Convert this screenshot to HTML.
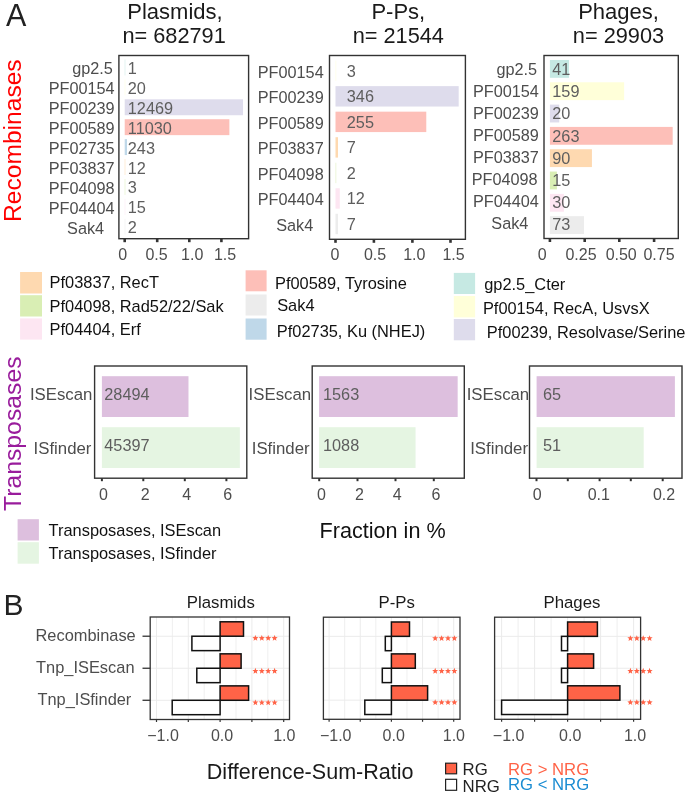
<!DOCTYPE html>
<html><head><meta charset="utf-8"><style>
html,body{margin:0;padding:0;background:#fff;}
body{width:685px;height:798px;overflow:hidden;}
svg{display:block;font-family:"Liberation Sans", sans-serif;}
.wrap{will-change:transform;width:685px;height:798px;}
</style></head><body>
<div class="wrap"><svg width="685" height="798" viewBox="0 0 685 798">
<rect x="0" y="0" width="685" height="798" fill="#fff"/>
<rect x="124.30" y="59.48" width="1.40" height="15.93" fill="#C6E9E3" opacity="0.35"/>
<rect x="124.30" y="79.40" width="1.40" height="15.93" fill="#FFFFD9" opacity="0.35"/>
<rect x="124.70" y="99.31" width="118.34" height="15.93" fill="#DEDCEC" />
<rect x="124.70" y="119.22" width="104.68" height="15.93" fill="#FDBFB8" />
<rect x="124.70" y="139.13" width="2.31" height="15.93" fill="#BFD8E9" />
<rect x="124.30" y="159.05" width="1.40" height="15.93" fill="#FED9B0" opacity="0.35"/>
<rect x="124.30" y="178.96" width="1.40" height="15.93" fill="#D9EEB4" opacity="0.35"/>
<rect x="124.30" y="198.87" width="1.40" height="15.93" fill="#FDE6F2" opacity="0.35"/>
<rect x="124.30" y="218.79" width="1.40" height="15.93" fill="#ECECEC" opacity="0.35"/>
<text x="127.80" y="73.95" font-size="16.3" fill="#5E5E5E" text-anchor="start" >1</text>
<text x="112.80" y="74.45" font-size="16.25" fill="#4D4D4D" text-anchor="end" >gp2.5</text>
<text x="127.80" y="93.86" font-size="16.3" fill="#5E5E5E" text-anchor="start" >20</text>
<text x="114.60" y="94.36" font-size="16.25" fill="#4D4D4D" text-anchor="end" >PF00154</text>
<text x="127.80" y="113.77" font-size="16.3" fill="#5E5E5E" text-anchor="start" >12469</text>
<text x="114.60" y="114.27" font-size="16.25" fill="#4D4D4D" text-anchor="end" >PF00239</text>
<text x="127.80" y="133.69" font-size="16.3" fill="#5E5E5E" text-anchor="start" >11030</text>
<text x="114.60" y="134.19" font-size="16.25" fill="#4D4D4D" text-anchor="end" >PF00589</text>
<text x="127.80" y="153.60" font-size="16.3" fill="#5E5E5E" text-anchor="start" >243</text>
<text x="114.60" y="154.10" font-size="16.25" fill="#4D4D4D" text-anchor="end" >PF02735</text>
<text x="127.80" y="173.51" font-size="16.3" fill="#5E5E5E" text-anchor="start" >12</text>
<text x="114.60" y="174.01" font-size="16.25" fill="#4D4D4D" text-anchor="end" >PF03837</text>
<text x="127.80" y="193.43" font-size="16.3" fill="#5E5E5E" text-anchor="start" >3</text>
<text x="114.60" y="193.93" font-size="16.25" fill="#4D4D4D" text-anchor="end" >PF04098</text>
<text x="127.80" y="213.34" font-size="16.3" fill="#5E5E5E" text-anchor="start" >15</text>
<text x="114.60" y="213.84" font-size="16.25" fill="#4D4D4D" text-anchor="end" >PF04404</text>
<text x="127.80" y="233.25" font-size="16.3" fill="#5E5E5E" text-anchor="start" >2</text>
<text x="104.10" y="233.75" font-size="16.25" fill="#4D4D4D" text-anchor="end" >Sak4</text>
<rect x="118.90" y="55.50" width="129.70" height="183.20" fill="none" stroke="#333333" stroke-width="1.4" />
<line x1="124.70" y1="238.70" x2="124.70" y2="242.20" stroke="#333333" stroke-width="2.6"/>
<line x1="157.20" y1="238.70" x2="157.20" y2="242.20" stroke="#333333" stroke-width="2.6"/>
<line x1="189.30" y1="238.70" x2="189.30" y2="242.20" stroke="#333333" stroke-width="2.6"/>
<line x1="221.40" y1="238.70" x2="221.40" y2="242.20" stroke="#333333" stroke-width="2.6"/>
<text x="122.70" y="260.00" font-size="16" fill="#4D4D4D" text-anchor="middle" >0</text>
<text x="156.50" y="260.00" font-size="16" fill="#4D4D4D" text-anchor="middle" >0.5</text>
<text x="192.20" y="260.00" font-size="16" fill="#4D4D4D" text-anchor="middle" >1.0</text>
<text x="225.00" y="260.00" font-size="16" fill="#4D4D4D" text-anchor="middle" >1.5</text>
<text x="175.00" y="18.60" font-size="22" fill="#1A1A1A" text-anchor="middle" >Plasmids,</text>
<text x="174.10" y="42.60" font-size="21.75" fill="#1A1A1A" text-anchor="middle" >n= 682791</text>
<rect x="335.10" y="60.61" width="1.40" height="20.42" fill="#FFFFD9" opacity="0.35"/>
<rect x="335.50" y="86.13" width="123.18" height="20.42" fill="#DEDCEC" />
<rect x="335.50" y="111.66" width="90.78" height="20.42" fill="#FDBFB8" />
<rect x="335.50" y="137.19" width="2.49" height="20.42" fill="#FED9B0" />
<rect x="335.10" y="162.72" width="1.40" height="20.42" fill="#D9EEB4" opacity="0.35"/>
<rect x="335.50" y="188.24" width="4.27" height="20.42" fill="#FDE6F2" />
<rect x="335.50" y="213.77" width="2.49" height="20.42" fill="#ECECEC" />
<text x="346.80" y="76.62" font-size="16.3" fill="#5E5E5E" text-anchor="start" >3</text>
<text x="323.70" y="77.82" font-size="16.25" fill="#4D4D4D" text-anchor="end" >PF00154</text>
<text x="346.80" y="102.14" font-size="16.3" fill="#5E5E5E" text-anchor="start" >346</text>
<text x="323.70" y="103.34" font-size="16.25" fill="#4D4D4D" text-anchor="end" >PF00239</text>
<text x="346.80" y="127.67" font-size="16.3" fill="#5E5E5E" text-anchor="start" >255</text>
<text x="323.70" y="128.87" font-size="16.25" fill="#4D4D4D" text-anchor="end" >PF00589</text>
<text x="346.80" y="153.20" font-size="16.3" fill="#5E5E5E" text-anchor="start" >7</text>
<text x="323.70" y="154.40" font-size="16.25" fill="#4D4D4D" text-anchor="end" >PF03837</text>
<text x="346.80" y="178.73" font-size="16.3" fill="#5E5E5E" text-anchor="start" >2</text>
<text x="323.70" y="179.93" font-size="16.25" fill="#4D4D4D" text-anchor="end" >PF04098</text>
<text x="346.80" y="204.26" font-size="16.3" fill="#5E5E5E" text-anchor="start" >12</text>
<text x="323.70" y="205.46" font-size="16.25" fill="#4D4D4D" text-anchor="end" >PF04404</text>
<text x="346.80" y="229.78" font-size="16.3" fill="#5E5E5E" text-anchor="start" >7</text>
<text x="313.20" y="230.98" font-size="16.25" fill="#4D4D4D" text-anchor="end" >Sak4</text>
<rect x="329.50" y="55.50" width="135.90" height="183.80" fill="none" stroke="#333333" stroke-width="1.4" />
<line x1="335.50" y1="239.30" x2="335.50" y2="242.80" stroke="#333333" stroke-width="2.6"/>
<line x1="373.90" y1="239.30" x2="373.90" y2="242.80" stroke="#333333" stroke-width="2.6"/>
<line x1="412.40" y1="239.30" x2="412.40" y2="242.80" stroke="#333333" stroke-width="2.6"/>
<line x1="450.50" y1="239.30" x2="450.50" y2="242.80" stroke="#333333" stroke-width="2.6"/>
<text x="335.00" y="260.00" font-size="16" fill="#4D4D4D" text-anchor="middle" >0</text>
<text x="375.00" y="260.00" font-size="16" fill="#4D4D4D" text-anchor="middle" >0.5</text>
<text x="414.30" y="260.00" font-size="16" fill="#4D4D4D" text-anchor="middle" >1.0</text>
<text x="453.60" y="260.00" font-size="16" fill="#4D4D4D" text-anchor="middle" >1.5</text>
<text x="398.30" y="18.60" font-size="22" fill="#1A1A1A" text-anchor="middle" >P-Ps,</text>
<text x="398.30" y="42.60" font-size="21.75" fill="#1A1A1A" text-anchor="middle" >n= 21544</text>
<rect x="549.90" y="59.96" width="19.14" height="17.85" fill="#C6E9E3" />
<rect x="549.90" y="82.28" width="74.23" height="17.85" fill="#FFFFD9" />
<rect x="549.90" y="104.60" width="9.34" height="17.85" fill="#DEDCEC" />
<rect x="549.90" y="126.91" width="122.78" height="17.85" fill="#FDBFB8" />
<rect x="549.90" y="149.23" width="42.02" height="17.85" fill="#FED9B0" />
<rect x="549.90" y="171.55" width="7.00" height="17.85" fill="#D9EEB4" />
<rect x="549.90" y="193.87" width="14.01" height="17.85" fill="#FDE6F2" />
<rect x="549.90" y="216.18" width="34.08" height="17.85" fill="#ECECEC" />
<text x="552.30" y="75.09" font-size="16.3" fill="#5E5E5E" text-anchor="start" >41</text>
<text x="537.10" y="74.99" font-size="16.25" fill="#4D4D4D" text-anchor="end" >gp2.5</text>
<text x="552.30" y="97.24" font-size="16.3" fill="#5E5E5E" text-anchor="start" >159</text>
<text x="538.90" y="96.94" font-size="16.25" fill="#4D4D4D" text-anchor="end" >PF00154</text>
<text x="552.30" y="119.38" font-size="16.3" fill="#5E5E5E" text-anchor="start" >20</text>
<text x="538.90" y="118.88" font-size="16.25" fill="#4D4D4D" text-anchor="end" >PF00239</text>
<text x="552.30" y="141.53" font-size="16.3" fill="#5E5E5E" text-anchor="start" >263</text>
<text x="538.90" y="140.83" font-size="16.25" fill="#4D4D4D" text-anchor="end" >PF00589</text>
<text x="552.30" y="163.68" font-size="16.3" fill="#5E5E5E" text-anchor="start" >90</text>
<text x="538.90" y="162.78" font-size="16.25" fill="#4D4D4D" text-anchor="end" >PF03837</text>
<text x="552.30" y="185.83" font-size="16.3" fill="#5E5E5E" text-anchor="start" >15</text>
<text x="537.60" y="184.73" font-size="16.25" fill="#4D4D4D" text-anchor="end" >PF04098</text>
<text x="552.30" y="207.97" font-size="16.3" fill="#5E5E5E" text-anchor="start" >30</text>
<text x="538.90" y="206.67" font-size="16.25" fill="#4D4D4D" text-anchor="end" >PF04404</text>
<text x="552.30" y="230.12" font-size="16.3" fill="#5E5E5E" text-anchor="start" >73</text>
<text x="528.40" y="228.62" font-size="16.25" fill="#4D4D4D" text-anchor="end" >Sak4</text>
<rect x="544.00" y="55.50" width="134.30" height="183.00" fill="none" stroke="#333333" stroke-width="1.4" />
<line x1="549.90" y1="238.50" x2="549.90" y2="242.00" stroke="#333333" stroke-width="2.6"/>
<line x1="584.70" y1="238.50" x2="584.70" y2="242.00" stroke="#333333" stroke-width="2.6"/>
<line x1="619.30" y1="238.50" x2="619.30" y2="242.00" stroke="#333333" stroke-width="2.6"/>
<line x1="654.10" y1="238.50" x2="654.10" y2="242.00" stroke="#333333" stroke-width="2.6"/>
<text x="542.20" y="260.00" font-size="16" fill="#4D4D4D" text-anchor="middle" >0</text>
<text x="581.00" y="260.00" font-size="16" fill="#4D4D4D" text-anchor="middle" >0.25</text>
<text x="621.20" y="260.00" font-size="16" fill="#4D4D4D" text-anchor="middle" >0.50</text>
<text x="659.00" y="260.00" font-size="16" fill="#4D4D4D" text-anchor="middle" >0.75</text>
<text x="618.50" y="18.60" font-size="22" fill="#1A1A1A" text-anchor="middle" >Phages,</text>
<text x="618.50" y="42.60" font-size="21.75" fill="#1A1A1A" text-anchor="middle" >n= 29903</text>
<text x="5.90" y="25.60" font-size="30.5" fill="#222" text-anchor="start" >A</text>
<text x="3.50" y="614.90" font-size="30" fill="#222" text-anchor="start" >B</text>
<text x="0.00" y="0.00" font-size="24.6" fill="#FF0000" text-anchor="start" transform="translate(21.2,222.0) rotate(-90)">Recombinases</text>
<text x="0.00" y="0.00" font-size="24.75" fill="#991C9C" text-anchor="start" transform="translate(21.2,511.0) rotate(-90)">Transposases</text>
<rect x="20.10" y="272.00" width="21.90" height="21.50" fill="#FED9B0" />
<text x="49.60" y="288.40" font-size="16.4" fill="#111" text-anchor="start" >Pf03837, RecT</text>
<rect x="20.10" y="295.20" width="21.90" height="21.30" fill="#D9EEB4" />
<text x="49.60" y="311.80" font-size="16.4" fill="#111" text-anchor="start" >Pf04098, Rad52/22/Sak</text>
<rect x="20.10" y="318.40" width="21.90" height="21.20" fill="#FDE6F2" />
<text x="49.60" y="335.00" font-size="16.4" fill="#111" text-anchor="start" >Pf04404, Erf</text>
<rect x="245.60" y="270.30" width="21.00" height="21.00" fill="#FDBFB8" />
<text x="275.00" y="288.70" font-size="16.4" fill="#111" text-anchor="start" >Pf00589, Tyrosine</text>
<rect x="245.60" y="294.50" width="21.00" height="21.00" fill="#ECECEC" />
<text x="277.20" y="310.90" font-size="16.4" fill="#111" text-anchor="start" >Sak4</text>
<rect x="245.60" y="318.50" width="21.00" height="21.20" fill="#BFD8E9" />
<text x="276.80" y="336.50" font-size="16.4" fill="#111" text-anchor="start" >Pf02735, Ku (NHEJ)</text>
<rect x="453.80" y="272.90" width="21.30" height="21.10" fill="#C6E9E3" />
<text x="484.20" y="290.10" font-size="16.4" fill="#111" text-anchor="start" >gp2.5_Cter</text>
<rect x="453.80" y="296.00" width="21.30" height="21.40" fill="#FFFFD9" />
<text x="482.90" y="313.50" font-size="16.4" fill="#111" text-anchor="start" >Pf00154, RecA, UsvsX</text>
<rect x="453.80" y="319.00" width="21.30" height="21.30" fill="#DEDCEC" />
<text x="486.80" y="338.30" font-size="16.4" fill="#111" text-anchor="start" >Pf00239, Resolvase/Serine</text>
<rect x="101.90" y="376.20" width="86.59" height="40.80" fill="#DDBFDE" />
<text x="104.30" y="400.00" font-size="16.3" fill="#5E5E5E" text-anchor="start" >28494</text>
<text x="92.40" y="400.20" font-size="16.8" fill="#4D4D4D" text-anchor="end" >ISEscan</text>
<rect x="101.90" y="427.20" width="137.96" height="40.80" fill="#E5F5E2" />
<text x="104.30" y="451.00" font-size="16.3" fill="#5E5E5E" text-anchor="start" >45397</text>
<text x="91.40" y="454.30" font-size="16.8" fill="#4D4D4D" text-anchor="end" >ISfinder</text>
<rect x="94.60" y="366.00" width="152.20" height="112.20" fill="none" stroke="#333333" stroke-width="1.4" />
<line x1="101.90" y1="478.20" x2="101.90" y2="481.20" stroke="#333333" stroke-width="2"/>
<line x1="143.30" y1="478.20" x2="143.30" y2="481.20" stroke="#333333" stroke-width="2"/>
<line x1="184.80" y1="478.20" x2="184.80" y2="481.20" stroke="#333333" stroke-width="2"/>
<line x1="226.40" y1="478.20" x2="226.40" y2="481.20" stroke="#333333" stroke-width="2"/>
<text x="103.40" y="500.20" font-size="16" fill="#4D4D4D" text-anchor="middle" >0</text>
<text x="145.30" y="500.20" font-size="16" fill="#4D4D4D" text-anchor="middle" >2</text>
<text x="186.70" y="500.20" font-size="16" fill="#4D4D4D" text-anchor="middle" >4</text>
<text x="227.80" y="500.20" font-size="16" fill="#4D4D4D" text-anchor="middle" >6</text>
<rect x="319.10" y="376.20" width="138.57" height="40.80" fill="#DDBFDE" />
<text x="323.00" y="400.00" font-size="16.3" fill="#5E5E5E" text-anchor="start" >1563</text>
<text x="311.10" y="400.20" font-size="16.8" fill="#4D4D4D" text-anchor="end" >ISEscan</text>
<rect x="319.10" y="427.20" width="96.46" height="40.80" fill="#E5F5E2" />
<text x="323.00" y="451.00" font-size="16.3" fill="#5E5E5E" text-anchor="start" >1088</text>
<text x="309.60" y="454.30" font-size="16.8" fill="#4D4D4D" text-anchor="end" >ISfinder</text>
<rect x="312.20" y="366.00" width="152.10" height="112.20" fill="none" stroke="#333333" stroke-width="1.4" />
<line x1="319.20" y1="478.20" x2="319.20" y2="481.20" stroke="#333333" stroke-width="2"/>
<line x1="357.50" y1="478.20" x2="357.50" y2="481.20" stroke="#333333" stroke-width="2"/>
<line x1="395.50" y1="478.20" x2="395.50" y2="481.20" stroke="#333333" stroke-width="2"/>
<line x1="433.80" y1="478.20" x2="433.80" y2="481.20" stroke="#333333" stroke-width="2"/>
<text x="321.40" y="500.20" font-size="16" fill="#4D4D4D" text-anchor="middle" >0</text>
<text x="359.40" y="500.20" font-size="16" fill="#4D4D4D" text-anchor="middle" >2</text>
<text x="397.30" y="500.20" font-size="16" fill="#4D4D4D" text-anchor="middle" >4</text>
<text x="436.00" y="500.20" font-size="16" fill="#4D4D4D" text-anchor="middle" >6</text>
<rect x="536.60" y="376.20" width="138.30" height="40.80" fill="#DDBFDE" />
<text x="542.90" y="400.00" font-size="16.3" fill="#5E5E5E" text-anchor="start" >65</text>
<text x="529.20" y="400.20" font-size="16.8" fill="#4D4D4D" text-anchor="end" >ISEscan</text>
<rect x="536.60" y="427.20" width="107.10" height="40.80" fill="#E5F5E2" />
<text x="542.90" y="451.00" font-size="16.3" fill="#5E5E5E" text-anchor="start" >51</text>
<text x="528.00" y="454.30" font-size="16.8" fill="#4D4D4D" text-anchor="end" >ISfinder</text>
<rect x="529.50" y="366.00" width="152.50" height="112.20" fill="none" stroke="#333333" stroke-width="1.4" />
<line x1="536.50" y1="478.20" x2="536.50" y2="481.20" stroke="#333333" stroke-width="2"/>
<line x1="567.80" y1="478.20" x2="567.80" y2="481.20" stroke="#333333" stroke-width="2"/>
<line x1="599.60" y1="478.20" x2="599.60" y2="481.20" stroke="#333333" stroke-width="2"/>
<line x1="630.80" y1="478.20" x2="630.80" y2="481.20" stroke="#333333" stroke-width="2"/>
<line x1="662.70" y1="478.20" x2="662.70" y2="481.20" stroke="#333333" stroke-width="2"/>
<text x="537.20" y="500.20" font-size="16" fill="#4D4D4D" text-anchor="middle" >0</text>
<text x="598.80" y="500.20" font-size="16" fill="#4D4D4D" text-anchor="middle" >0.1</text>
<text x="664.00" y="500.20" font-size="16" fill="#4D4D4D" text-anchor="middle" >0.2</text>
<rect x="17.60" y="519.20" width="21.30" height="21.30" fill="#DDBFDE" />
<rect x="17.60" y="542.20" width="21.30" height="21.50" fill="#E5F5E2" />
<text x="48.60" y="535.70" font-size="16.4" fill="#111" text-anchor="start" >Transposases, ISEscan</text>
<text x="48.60" y="559.00" font-size="16.4" fill="#111" text-anchor="start" >Transposases, ISfinder</text>
<text x="319.60" y="538.30" font-size="21.6" fill="#111" text-anchor="start" >Fraction in %</text>
<rect x="150.20" y="617.00" width="139.30" height="102.50" fill="#FFFFFF" />
<line x1="156.50" y1="617.00" x2="156.50" y2="719.50" stroke="#EBEBEB" stroke-width="1.0"/>
<line x1="172.40" y1="617.00" x2="172.40" y2="719.50" stroke="#EBEBEB" stroke-width="0.8"/>
<line x1="188.30" y1="617.00" x2="188.30" y2="719.50" stroke="#EBEBEB" stroke-width="1.0"/>
<line x1="204.20" y1="617.00" x2="204.20" y2="719.50" stroke="#EBEBEB" stroke-width="0.8"/>
<line x1="220.10" y1="617.00" x2="220.10" y2="719.50" stroke="#EBEBEB" stroke-width="1.0"/>
<line x1="236.00" y1="617.00" x2="236.00" y2="719.50" stroke="#EBEBEB" stroke-width="0.8"/>
<line x1="251.90" y1="617.00" x2="251.90" y2="719.50" stroke="#EBEBEB" stroke-width="1.0"/>
<line x1="267.80" y1="617.00" x2="267.80" y2="719.50" stroke="#EBEBEB" stroke-width="0.8"/>
<line x1="283.70" y1="617.00" x2="283.70" y2="719.50" stroke="#EBEBEB" stroke-width="1.0"/>
<line x1="150.20" y1="636.22" x2="289.50" y2="636.22" stroke="#EBEBEB" stroke-width="1.0"/>
<line x1="150.20" y1="668.25" x2="289.50" y2="668.25" stroke="#EBEBEB" stroke-width="1.0"/>
<line x1="150.20" y1="700.28" x2="289.50" y2="700.28" stroke="#EBEBEB" stroke-width="1.0"/>
<rect x="220.10" y="621.80" width="23.40" height="14.41" fill="#FF6347" stroke="#111" stroke-width="1.5" />
<rect x="191.90" y="636.22" width="28.20" height="14.41" fill="#FFFFFF" stroke="#111" stroke-width="1.5" />
<rect x="220.10" y="653.84" width="21.00" height="14.41" fill="#FF6347" stroke="#111" stroke-width="1.5" />
<rect x="196.80" y="668.25" width="23.30" height="14.41" fill="#FFFFFF" stroke="#111" stroke-width="1.5" />
<rect x="220.10" y="685.87" width="28.50" height="14.41" fill="#FF6347" stroke="#111" stroke-width="1.5" />
<rect x="172.20" y="700.28" width="47.90" height="14.41" fill="#FFFFFF" stroke="#111" stroke-width="1.5" />
<polygon points="255.40,635.02 256.22,637.09 258.44,637.23 256.73,638.65 257.28,640.81 255.40,639.62 253.52,640.81 254.07,638.65 252.36,637.23 254.58,637.09" fill="#FF6347"/>
<polygon points="261.80,635.02 262.62,637.09 264.84,637.23 263.13,638.65 263.68,640.81 261.80,639.62 259.92,640.81 260.47,638.65 258.76,637.23 260.98,637.09" fill="#FF6347"/>
<polygon points="268.20,635.02 269.02,637.09 271.24,637.23 269.53,638.65 270.08,640.81 268.20,639.62 266.32,640.81 266.87,638.65 265.16,637.23 267.38,637.09" fill="#FF6347"/>
<polygon points="274.60,635.02 275.42,637.09 277.64,637.23 275.93,638.65 276.48,640.81 274.60,639.62 272.72,640.81 273.27,638.65 271.56,637.23 273.78,637.09" fill="#FF6347"/>
<polygon points="255.40,667.85 256.22,669.92 258.44,670.06 256.73,671.48 257.28,673.64 255.40,672.45 253.52,673.64 254.07,671.48 252.36,670.06 254.58,669.92" fill="#FF6347"/>
<polygon points="261.80,667.85 262.62,669.92 264.84,670.06 263.13,671.48 263.68,673.64 261.80,672.45 259.92,673.64 260.47,671.48 258.76,670.06 260.98,669.92" fill="#FF6347"/>
<polygon points="268.20,667.85 269.02,669.92 271.24,670.06 269.53,671.48 270.08,673.64 268.20,672.45 266.32,673.64 266.87,671.48 265.16,670.06 267.38,669.92" fill="#FF6347"/>
<polygon points="274.60,667.85 275.42,669.92 277.64,670.06 275.93,671.48 276.48,673.64 274.60,672.45 272.72,673.64 273.27,671.48 271.56,670.06 273.78,669.92" fill="#FF6347"/>
<polygon points="255.40,699.38 256.22,701.45 258.44,701.59 256.73,703.01 257.28,705.17 255.40,703.98 253.52,705.17 254.07,703.01 252.36,701.59 254.58,701.45" fill="#FF6347"/>
<polygon points="261.80,699.38 262.62,701.45 264.84,701.59 263.13,703.01 263.68,705.17 261.80,703.98 259.92,705.17 260.47,703.01 258.76,701.59 260.98,701.45" fill="#FF6347"/>
<polygon points="268.20,699.38 269.02,701.45 271.24,701.59 269.53,703.01 270.08,705.17 268.20,703.98 266.32,705.17 266.87,703.01 265.16,701.59 267.38,701.45" fill="#FF6347"/>
<polygon points="274.60,699.38 275.42,701.45 277.64,701.59 275.93,703.01 276.48,705.17 274.60,703.98 272.72,705.17 273.27,703.01 271.56,701.59 273.78,701.45" fill="#FF6347"/>
<rect x="150.20" y="617.00" width="139.30" height="102.50" fill="none" stroke="#333333" stroke-width="1.3" />
<line x1="156.50" y1="719.50" x2="156.50" y2="722.00" stroke="#333333" stroke-width="1.2"/>
<line x1="188.30" y1="719.50" x2="188.30" y2="722.00" stroke="#333333" stroke-width="1.2"/>
<line x1="220.10" y1="719.50" x2="220.10" y2="722.00" stroke="#333333" stroke-width="1.2"/>
<line x1="251.90" y1="719.50" x2="251.90" y2="722.00" stroke="#333333" stroke-width="1.2"/>
<line x1="283.70" y1="719.50" x2="283.70" y2="722.00" stroke="#333333" stroke-width="1.2"/>
<text x="163.00" y="741.30" font-size="16" fill="#4D4D4D" text-anchor="middle" >−1.0</text>
<text x="222.00" y="741.30" font-size="16" fill="#4D4D4D" text-anchor="middle" >0.0</text>
<text x="284.30" y="741.30" font-size="16" fill="#4D4D4D" text-anchor="middle" >1.0</text>
<text x="220.80" y="608.20" font-size="16.8" fill="#1A1A1A" text-anchor="middle" >Plasmids</text>
<rect x="323.40" y="617.20" width="136.60" height="102.10" fill="#FFFFFF" />
<line x1="329.10" y1="617.20" x2="329.10" y2="719.30" stroke="#EBEBEB" stroke-width="1.0"/>
<line x1="344.67" y1="617.20" x2="344.67" y2="719.30" stroke="#EBEBEB" stroke-width="0.8"/>
<line x1="360.25" y1="617.20" x2="360.25" y2="719.30" stroke="#EBEBEB" stroke-width="1.0"/>
<line x1="375.82" y1="617.20" x2="375.82" y2="719.30" stroke="#EBEBEB" stroke-width="0.8"/>
<line x1="391.40" y1="617.20" x2="391.40" y2="719.30" stroke="#EBEBEB" stroke-width="1.0"/>
<line x1="406.97" y1="617.20" x2="406.97" y2="719.30" stroke="#EBEBEB" stroke-width="0.8"/>
<line x1="422.55" y1="617.20" x2="422.55" y2="719.30" stroke="#EBEBEB" stroke-width="1.0"/>
<line x1="438.12" y1="617.20" x2="438.12" y2="719.30" stroke="#EBEBEB" stroke-width="0.8"/>
<line x1="453.70" y1="617.20" x2="453.70" y2="719.30" stroke="#EBEBEB" stroke-width="1.0"/>
<line x1="323.40" y1="636.34" x2="460.00" y2="636.34" stroke="#EBEBEB" stroke-width="1.0"/>
<line x1="323.40" y1="668.25" x2="460.00" y2="668.25" stroke="#EBEBEB" stroke-width="1.0"/>
<line x1="323.40" y1="700.16" x2="460.00" y2="700.16" stroke="#EBEBEB" stroke-width="1.0"/>
<rect x="391.40" y="621.99" width="18.10" height="14.36" fill="#FF6347" stroke="#111" stroke-width="1.5" />
<rect x="385.30" y="636.34" width="6.10" height="14.36" fill="#FFFFFF" stroke="#111" stroke-width="1.5" />
<rect x="391.40" y="653.89" width="23.90" height="14.36" fill="#FF6347" stroke="#111" stroke-width="1.5" />
<rect x="382.30" y="668.25" width="9.10" height="14.36" fill="#FFFFFF" stroke="#111" stroke-width="1.5" />
<rect x="391.40" y="685.80" width="36.20" height="14.36" fill="#FF6347" stroke="#111" stroke-width="1.5" />
<rect x="364.80" y="700.16" width="26.60" height="14.36" fill="#FFFFFF" stroke="#111" stroke-width="1.5" />
<polygon points="435.20,635.14 436.02,637.21 438.24,637.35 436.53,638.78 437.08,640.93 435.20,639.74 433.32,640.93 433.87,638.78 432.16,637.35 434.38,637.21" fill="#FF6347"/>
<polygon points="441.60,635.14 442.42,637.21 444.64,637.35 442.93,638.78 443.48,640.93 441.60,639.74 439.72,640.93 440.27,638.78 438.56,637.35 440.78,637.21" fill="#FF6347"/>
<polygon points="448.00,635.14 448.82,637.21 451.04,637.35 449.33,638.78 449.88,640.93 448.00,639.74 446.12,640.93 446.67,638.78 444.96,637.35 447.18,637.21" fill="#FF6347"/>
<polygon points="454.40,635.14 455.22,637.21 457.44,637.35 455.73,638.78 456.28,640.93 454.40,639.74 452.52,640.93 453.07,638.78 451.36,637.35 453.58,637.21" fill="#FF6347"/>
<polygon points="435.20,667.85 436.02,669.92 438.24,670.06 436.53,671.48 437.08,673.64 435.20,672.45 433.32,673.64 433.87,671.48 432.16,670.06 434.38,669.92" fill="#FF6347"/>
<polygon points="441.60,667.85 442.42,669.92 444.64,670.06 442.93,671.48 443.48,673.64 441.60,672.45 439.72,673.64 440.27,671.48 438.56,670.06 440.78,669.92" fill="#FF6347"/>
<polygon points="448.00,667.85 448.82,669.92 451.04,670.06 449.33,671.48 449.88,673.64 448.00,672.45 446.12,673.64 446.67,671.48 444.96,670.06 447.18,669.92" fill="#FF6347"/>
<polygon points="454.40,667.85 455.22,669.92 457.44,670.06 455.73,671.48 456.28,673.64 454.40,672.45 452.52,673.64 453.07,671.48 451.36,670.06 453.58,669.92" fill="#FF6347"/>
<polygon points="435.20,699.26 436.02,701.32 438.24,701.47 436.53,702.89 437.08,705.05 435.20,703.86 433.32,705.05 433.87,702.89 432.16,701.47 434.38,701.32" fill="#FF6347"/>
<polygon points="441.60,699.26 442.42,701.32 444.64,701.47 442.93,702.89 443.48,705.05 441.60,703.86 439.72,705.05 440.27,702.89 438.56,701.47 440.78,701.32" fill="#FF6347"/>
<polygon points="448.00,699.26 448.82,701.32 451.04,701.47 449.33,702.89 449.88,705.05 448.00,703.86 446.12,705.05 446.67,702.89 444.96,701.47 447.18,701.32" fill="#FF6347"/>
<polygon points="454.40,699.26 455.22,701.32 457.44,701.47 455.73,702.89 456.28,705.05 454.40,703.86 452.52,705.05 453.07,702.89 451.36,701.47 453.58,701.32" fill="#FF6347"/>
<rect x="323.40" y="617.20" width="136.60" height="102.10" fill="none" stroke="#333333" stroke-width="1.3" />
<line x1="329.10" y1="719.30" x2="329.10" y2="721.80" stroke="#333333" stroke-width="1.2"/>
<line x1="360.25" y1="719.30" x2="360.25" y2="721.80" stroke="#333333" stroke-width="1.2"/>
<line x1="391.40" y1="719.30" x2="391.40" y2="721.80" stroke="#333333" stroke-width="1.2"/>
<line x1="422.55" y1="719.30" x2="422.55" y2="721.80" stroke="#333333" stroke-width="1.2"/>
<line x1="453.70" y1="719.30" x2="453.70" y2="721.80" stroke="#333333" stroke-width="1.2"/>
<text x="335.70" y="741.30" font-size="16" fill="#4D4D4D" text-anchor="middle" >−1.0</text>
<text x="393.70" y="741.30" font-size="16" fill="#4D4D4D" text-anchor="middle" >0.0</text>
<text x="453.90" y="741.30" font-size="16" fill="#4D4D4D" text-anchor="middle" >1.0</text>
<text x="396.70" y="608.20" font-size="16.8" fill="#1A1A1A" text-anchor="middle" >P-Ps</text>
<rect x="494.60" y="617.20" width="146.00" height="102.10" fill="#FFFFFF" />
<line x1="501.60" y1="617.20" x2="501.60" y2="719.30" stroke="#EBEBEB" stroke-width="1.0"/>
<line x1="518.10" y1="617.20" x2="518.10" y2="719.30" stroke="#EBEBEB" stroke-width="0.8"/>
<line x1="534.60" y1="617.20" x2="534.60" y2="719.30" stroke="#EBEBEB" stroke-width="1.0"/>
<line x1="551.10" y1="617.20" x2="551.10" y2="719.30" stroke="#EBEBEB" stroke-width="0.8"/>
<line x1="567.60" y1="617.20" x2="567.60" y2="719.30" stroke="#EBEBEB" stroke-width="1.0"/>
<line x1="584.10" y1="617.20" x2="584.10" y2="719.30" stroke="#EBEBEB" stroke-width="0.8"/>
<line x1="600.60" y1="617.20" x2="600.60" y2="719.30" stroke="#EBEBEB" stroke-width="1.0"/>
<line x1="617.10" y1="617.20" x2="617.10" y2="719.30" stroke="#EBEBEB" stroke-width="0.8"/>
<line x1="633.60" y1="617.20" x2="633.60" y2="719.30" stroke="#EBEBEB" stroke-width="1.0"/>
<line x1="494.60" y1="636.34" x2="640.60" y2="636.34" stroke="#EBEBEB" stroke-width="1.0"/>
<line x1="494.60" y1="668.25" x2="640.60" y2="668.25" stroke="#EBEBEB" stroke-width="1.0"/>
<line x1="494.60" y1="700.16" x2="640.60" y2="700.16" stroke="#EBEBEB" stroke-width="1.0"/>
<rect x="567.60" y="621.99" width="29.80" height="14.36" fill="#FF6347" stroke="#111" stroke-width="1.5" />
<rect x="561.50" y="636.34" width="6.10" height="14.36" fill="#FFFFFF" stroke="#111" stroke-width="1.5" />
<rect x="567.60" y="653.89" width="26.00" height="14.36" fill="#FF6347" stroke="#111" stroke-width="1.5" />
<rect x="561.50" y="668.25" width="6.10" height="14.36" fill="#FFFFFF" stroke="#111" stroke-width="1.5" />
<rect x="567.60" y="685.80" width="52.30" height="14.36" fill="#FF6347" stroke="#111" stroke-width="1.5" />
<rect x="501.60" y="700.16" width="66.00" height="14.36" fill="#FFFFFF" stroke="#111" stroke-width="1.5" />
<polygon points="630.40,635.14 631.22,637.21 633.44,637.35 631.73,638.78 632.28,640.93 630.40,639.74 628.52,640.93 629.07,638.78 627.36,637.35 629.58,637.21" fill="#FF6347"/>
<polygon points="636.80,635.14 637.62,637.21 639.84,637.35 638.13,638.78 638.68,640.93 636.80,639.74 634.92,640.93 635.47,638.78 633.76,637.35 635.98,637.21" fill="#FF6347"/>
<polygon points="643.20,635.14 644.02,637.21 646.24,637.35 644.53,638.78 645.08,640.93 643.20,639.74 641.32,640.93 641.87,638.78 640.16,637.35 642.38,637.21" fill="#FF6347"/>
<polygon points="649.60,635.14 650.42,637.21 652.64,637.35 650.93,638.78 651.48,640.93 649.60,639.74 647.72,640.93 648.27,638.78 646.56,637.35 648.78,637.21" fill="#FF6347"/>
<polygon points="630.40,667.85 631.22,669.92 633.44,670.06 631.73,671.48 632.28,673.64 630.40,672.45 628.52,673.64 629.07,671.48 627.36,670.06 629.58,669.92" fill="#FF6347"/>
<polygon points="636.80,667.85 637.62,669.92 639.84,670.06 638.13,671.48 638.68,673.64 636.80,672.45 634.92,673.64 635.47,671.48 633.76,670.06 635.98,669.92" fill="#FF6347"/>
<polygon points="643.20,667.85 644.02,669.92 646.24,670.06 644.53,671.48 645.08,673.64 643.20,672.45 641.32,673.64 641.87,671.48 640.16,670.06 642.38,669.92" fill="#FF6347"/>
<polygon points="649.60,667.85 650.42,669.92 652.64,670.06 650.93,671.48 651.48,673.64 649.60,672.45 647.72,673.64 648.27,671.48 646.56,670.06 648.78,669.92" fill="#FF6347"/>
<polygon points="630.40,699.26 631.22,701.32 633.44,701.47 631.73,702.89 632.28,705.05 630.40,703.86 628.52,705.05 629.07,702.89 627.36,701.47 629.58,701.32" fill="#FF6347"/>
<polygon points="636.80,699.26 637.62,701.32 639.84,701.47 638.13,702.89 638.68,705.05 636.80,703.86 634.92,705.05 635.47,702.89 633.76,701.47 635.98,701.32" fill="#FF6347"/>
<polygon points="643.20,699.26 644.02,701.32 646.24,701.47 644.53,702.89 645.08,705.05 643.20,703.86 641.32,705.05 641.87,702.89 640.16,701.47 642.38,701.32" fill="#FF6347"/>
<polygon points="649.60,699.26 650.42,701.32 652.64,701.47 650.93,702.89 651.48,705.05 649.60,703.86 647.72,705.05 648.27,702.89 646.56,701.47 648.78,701.32" fill="#FF6347"/>
<rect x="494.60" y="617.20" width="146.00" height="102.10" fill="none" stroke="#333333" stroke-width="1.3" />
<line x1="501.60" y1="719.30" x2="501.60" y2="721.80" stroke="#333333" stroke-width="1.2"/>
<line x1="534.60" y1="719.30" x2="534.60" y2="721.80" stroke="#333333" stroke-width="1.2"/>
<line x1="567.60" y1="719.30" x2="567.60" y2="721.80" stroke="#333333" stroke-width="1.2"/>
<line x1="600.60" y1="719.30" x2="600.60" y2="721.80" stroke="#333333" stroke-width="1.2"/>
<line x1="633.60" y1="719.30" x2="633.60" y2="721.80" stroke="#333333" stroke-width="1.2"/>
<text x="508.60" y="741.30" font-size="16" fill="#4D4D4D" text-anchor="middle" >−1.0</text>
<text x="570.20" y="741.30" font-size="16" fill="#4D4D4D" text-anchor="middle" >0.0</text>
<text x="635.10" y="741.30" font-size="16" fill="#4D4D4D" text-anchor="middle" >1.0</text>
<text x="571.90" y="608.20" font-size="16.8" fill="#1A1A1A" text-anchor="middle" >Phages</text>
<line x1="142.50" y1="636.22" x2="150.20" y2="636.22" stroke="#333333" stroke-width="1.3"/>
<text x="85.60" y="640.52" font-size="16.4" fill="#4D4D4D" text-anchor="middle" >Recombinase</text>
<line x1="142.50" y1="668.25" x2="150.20" y2="668.25" stroke="#333333" stroke-width="1.3"/>
<text x="85.30" y="672.55" font-size="16.4" fill="#4D4D4D" text-anchor="middle" >Tnp_ISEscan</text>
<line x1="142.50" y1="700.28" x2="150.20" y2="700.28" stroke="#333333" stroke-width="1.3"/>
<text x="84.40" y="704.58" font-size="16.4" fill="#4D4D4D" text-anchor="middle" >Tnp_ISfinder</text>
<text x="206.80" y="779.40" font-size="21.55" fill="#1A1A1A" text-anchor="start" >Difference-Sum-Ratio</text>
<rect x="445.60" y="763.20" width="11.00" height="10.60" fill="#FF6347" stroke="#222" stroke-width="1.2" />
<rect x="445.60" y="779.30" width="11.00" height="11.00" fill="#FFFFFF" stroke="#222" stroke-width="1.2" />
<text x="462.60" y="774.60" font-size="16.8" fill="#222" text-anchor="start" >RG</text>
<text x="462.60" y="792.00" font-size="16.8" fill="#222" text-anchor="start" >NRG</text>
<text x="508.00" y="774.80" font-size="16.7" fill="#FF6347" text-anchor="start" >RG &gt; NRG</text>
<text x="508.00" y="790.00" font-size="16.7" fill="#1A8CD2" text-anchor="start" >RG &lt; NRG</text>
</svg></div>
</body></html>
